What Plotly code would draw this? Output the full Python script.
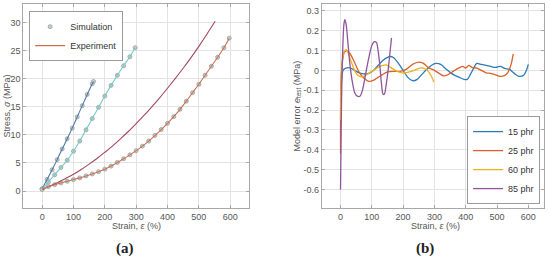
import plotly.graph_objects as go

# ---- (a) stress-strain curves ----
strain_a1 = [0, 16, 32, 48, 64, 80, 96, 112, 128, 144, 160, 164]
stress_a1 = [0.4, 2.1, 3.8, 5.6, 7.5, 9.3, 11.2, 13.2, 15.2, 17.2, 19.1, 19.5]

strain_a2 = [0, 20, 40, 60, 80, 100, 120, 140, 160, 180, 200, 220, 240, 260, 280, 297]
stress_a2 = [0.4, 1.6, 2.9, 4.2, 5.5, 7.1, 8.9, 10.9, 12.9, 14.9, 16.9, 18.8, 20.6, 22.3, 23.9, 25.5]

strain_a3 = [0, 25, 50, 75, 100, 125, 150, 175, 200, 225, 250, 275, 300, 325, 350,
             375, 400, 425, 450, 475, 500, 525, 552]
stress_a3 = [0.3, 0.9, 1.55, 2.25, 3.0, 3.85, 4.8, 5.8, 6.9, 8.05, 9.3, 10.6, 12.0, 13.45, 15.0,
             16.6, 18.3, 20.05, 21.85, 23.75, 25.75, 27.85, 30.2]

strain_a4 = [0, 20, 40, 60, 80, 100, 120, 140, 160, 180, 200, 220, 240, 260, 280, 300,
             320, 340, 360, 380, 400, 420, 440, 460, 480, 500, 520, 540, 560, 580, 597]
stress_a4 = [0.3, 0.8, 1.15, 1.45, 1.75, 2.05, 2.35, 2.7, 3.05, 3.45, 3.9, 4.45, 5.1, 5.75,
             6.45, 7.2, 8.0, 8.9, 9.9, 10.95, 12.05, 13.25, 14.55, 16.0, 17.5, 19.0, 20.6,
             22.2, 23.8, 25.5, 27.2]

# ---- (b) model error ----
strain_15 = [0, 3, 8, 15, 30, 45, 60, 75, 90, 105, 120, 135, 150, 160, 170, 185, 200, 215,
             230, 245, 260, 275, 290, 305, 320, 335, 350, 365, 380, 395, 405, 415, 425, 435,
             450, 465, 480, 495, 510, 525, 540, 555, 570, 585, 595, 600]
err_15 = [-0.15, -0.06, 0.0, 0.01, 0.013, 0.0, -0.013, -0.018, -0.015, 0.0, 0.025, 0.05,
          0.066, 0.07, 0.064, 0.035, 0.0, -0.035, -0.052, -0.045, -0.02, 0.005, 0.025, 0.035,
          0.03, 0.01, -0.01, -0.025, -0.035, -0.045, -0.045, -0.02, 0.01, 0.035, 0.03, 0.025,
          0.02, 0.015, 0.02, 0.01, 0.005, -0.015, -0.03, -0.025, 0.005, 0.03]

strain_25 = [0, 1, 5, 12, 20, 30, 45, 60, 75, 90, 105, 120, 135, 150, 170, 190, 210, 230,
             250, 265, 280, 300, 315, 330, 345, 360, 375, 390, 400, 410, 420, 435, 450, 465,
             480, 495, 510, 525, 535, 545, 552]
err_25 = [-0.42, -0.08, 0.03, 0.09, 0.1, 0.085, 0.04, -0.01, -0.04, -0.055, -0.05, -0.035,
          -0.02, -0.008, -0.005, -0.005, 0.005, 0.03, 0.042, 0.035, 0.015, 0.0, -0.015,
          -0.028, -0.02, -0.005, 0.01, 0.02, 0.012, 0.025, 0.015, 0.012, 0.0, -0.012, -0.015,
          -0.022, -0.03, -0.025, -0.01, 0.03, 0.083]

strain_60 = [0, 2, 6, 12, 18, 25, 35, 45, 55, 65, 75, 90, 105, 120, 135, 145, 160, 175, 190,
             205, 220, 235, 250, 262, 275, 285, 292, 298]
err_60 = [-0.25, -0.05, 0.05, 0.095, 0.105, 0.085, 0.04, 0.0, -0.025, -0.032, -0.03, -0.015,
          0.0, 0.015, 0.025, 0.028, 0.015, 0.0, -0.01, -0.013, -0.008, 0.0, 0.01, 0.012,
          0.003, -0.015, -0.035, -0.06]

strain_85 = [0, 2, 5, 8, 11, 14, 18, 23, 30, 38, 46, 54, 62, 70, 80, 90, 100, 108, 115, 120,
             126, 131, 136, 140, 146, 152, 158, 163]
err_85 = [-0.6, -0.3, 0.0, 0.15, 0.235, 0.255, 0.23, 0.15, 0.03, -0.06, -0.115, -0.13, -0.13,
          -0.1, -0.02, 0.06, 0.125, 0.145, 0.14, 0.1, 0.02, -0.07, -0.12, -0.12, -0.07, 0.0,
          0.09, 0.164]

strain_ticks = [0, 100, 200, 300, 400, 500, 600]
stress_ticks = [0, 5, 10, 15, 20, 25, 30]
err_ticks = [-0.6, -0.5, -0.4, -0.3, -0.2, -0.1, 0, 0.1, 0.2, 0.3]
err_ticktext = ["-0.6", "-0.5", "-0.4", "-0.3", "-0.2", "-0.1", "0", "0.1", "0.2", "0.3"]

FONT = "Liberation Sans, Arial, sans-serif"
SIM_MARKER = dict(symbol="circle", size=4, color="#c9cdcd", line=dict(width=0.8, color="#93a0a0"))

fig = go.Figure()

# simulation markers (a), drawn under the lines
for i, (xs, ys) in enumerate([(strain_a1, stress_a1), (strain_a2, stress_a2), (strain_a4, stress_a4)]):
    fig.add_trace(go.Scatter(
        x=xs, y=ys, mode="markers", marker=SIM_MARKER,
        name="Simulation", showlegend=(i == 0), legendrank=1, xaxis="x", yaxis="y",
    ))

# experiment lines (a)
exp_curves = [
    (strain_a1, stress_a1, "#4f79a8", False),
    (strain_a2, stress_a2, "#74c9c6", False),
    (strain_a3, stress_a3, "#a3485c", False),
    (strain_a4, stress_a4, "#c9714f", True),
]
for xs, ys, c, leg in exp_curves:
    fig.add_trace(go.Scatter(
        x=xs, y=ys, mode="lines", line=dict(color=c, width=1.1, shape="spline"),
        name="Experiment", showlegend=leg, legendrank=2, xaxis="x", yaxis="y",
    ))

# model error (b)
err_curves = [
    (strain_15, err_15, "#2c7bb6", "15 phr"),
    (strain_25, err_25, "#d9622b", "25 phr"),
    (strain_60, err_60, "#edb120", "60 phr"),
    (strain_85, err_85, "#8e559c", "85 phr"),
]
for xs, ys, c, name in err_curves:
    fig.add_trace(go.Scatter(
        x=xs, y=ys, mode="lines", line=dict(color=c, width=1.3, shape="spline", smoothing=0.8),
        name=name, legend="legend2", xaxis="x2", yaxis="y2",
    ))

axis_common = dict(
    showgrid=True, gridcolor="#e3e3e3", gridwidth=1, zeroline=False,
    showline=True, linecolor="#a8a8a8", linewidth=1, mirror="allticks",
    ticks="inside", ticklen=3, tickcolor="#a8a8a8",
    tickfont=dict(family=FONT, size=9, color="#555555"),
)
title_font = dict(family=FONT, size=9, color="#555555")
label_font = dict(family="Liberation Serif, serif", size=15, color="#222222")


def note(text, x, y, angle=0, font=title_font):
    return dict(text=text, x=x, y=y, xref="paper", yref="paper", textangle=angle,
                xanchor="center", yanchor="middle", showarrow=False, font=font)


fig.update_layout(
    width=550, height=259,
    margin=dict(l=0, r=0, t=0, b=0),
    paper_bgcolor="white", plot_bgcolor="white",
    font=dict(family=FONT, size=9, color="#444444"),
    xaxis=dict(axis_common, domain=[0.0424, 0.4527], range=[-60, 660],
               tickvals=strain_ticks, anchor="y"),
    yaxis=dict(axis_common, domain=[0.197, 0.985], range=[-3, 33.3],
               tickvals=stress_ticks, anchor="x"),
    xaxis2=dict(axis_common, domain=[0.585, 0.989], range=[-60, 650],
                tickvals=strain_ticks, anchor="y2"),
    yaxis2=dict(axis_common, domain=[0.197, 0.985], range=[-0.693, 0.335],
                tickvals=err_ticks, ticktext=err_ticktext, anchor="x2"),
    legend=dict(x=0.053, y=0.957, xanchor="left", yanchor="top",
                bgcolor="white", bordercolor="#9a9a9a", borderwidth=1,
                font=dict(family=FONT, size=9, color="#333333"),
                tracegroupgap=0, itemwidth=30),
    legend2=dict(x=0.982, y=0.212, xanchor="right", yanchor="bottom",
                 bgcolor="white", bordercolor="#9a9a9a", borderwidth=1,
                 font=dict(family=FONT, size=9, color="#333333"),
                 tracegroupgap=0, itemwidth=30),
    annotations=[
        note("Strain, <i>ε</i> (%)", 0.2485, 0.127),
        note("Strain, <i>ε</i> (%)", 0.791, 0.127),
        note("Stress, <i>σ</i> (MPa)", 0.012, 0.591, angle=-90),
        note("Model error <i>e</i><sub>test</sub> (MPa)", 0.541, 0.591, angle=-90),
        note("<b>(a)</b>", 0.228, 0.042, font=label_font),
        note("<b>(b)</b>", 0.773, 0.042, font=label_font),
    ],
)

# the page body has a default 8px margin; drop it so the figure sits at the window's corner
fig.write_html("out.html", config={"displayModeBar": False},
               post_script="document.body.style.margin = '0px';")
